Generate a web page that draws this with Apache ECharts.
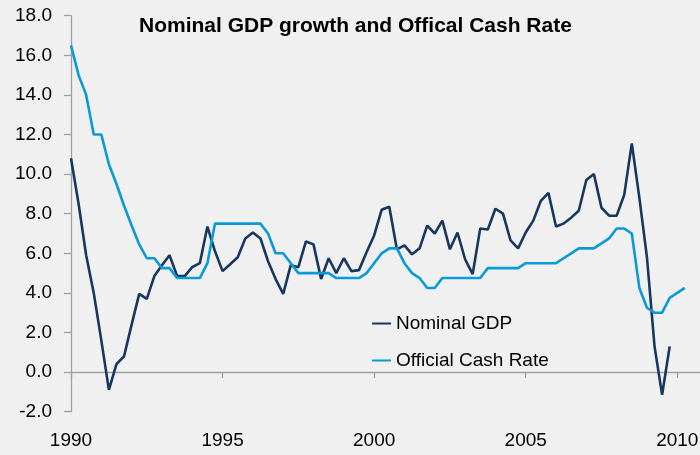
<!DOCTYPE html>
<html>
<head>
<meta charset="utf-8">
<script src="https://cdn.jsdelivr.net/npm/echarts@6/dist/echarts.min.js"></script>
<style>
html,body{margin:0;padding:0;background:#f0f0f0;}
#chart{width:700px;height:455px;}
</style>
</head>
<body>
<div id="chart"></div>
<script>
// Quarterly categories 1990 Q1 .. 2010 Q4
var startYear = 1990;
var endYear = 2010;
var quarters = [];
for (var y = startYear; y <= endYear; y++) {
  for (var q = 1; q <= 4; q++) quarters.push(y + ' Q' + q);
}

var yTicks = { min: -2, max: 18, interval: 2 };

// Nominal GDP growth (% y/y), 1990 Q1 .. 2009 Q4
var nominalGDP = [
  10.8, 8.5, 5.9, 4.0, 1.6, -0.9, 0.4, 0.8,
  2.4, 3.95, 3.7, 4.85, 5.4, 5.9, 4.85, 4.85,
  5.3, 5.5, 7.35, 6.1, 5.1, 5.45, 5.8, 6.75,
  7.05, 6.75, 5.6, 4.7, 3.95, 5.4, 5.3, 6.6,
  6.45, 4.7, 5.75, 5.0, 5.75, 5.1, 5.15, 6.05,
  6.9, 8.2, 8.35, 6.2, 6.4, 5.95, 6.25, 7.4,
  7.0, 7.65, 6.2, 7.05, 5.7, 4.95, 7.25, 7.2,
  8.25, 8.0, 6.65, 6.25, 7.05, 7.65, 8.65, 9.05,
  7.35, 7.5, 7.8, 8.15, 9.7, 10.0, 8.3, 7.9,
  7.9, 8.95, 11.55, 8.8, 5.8, 1.3, -1.15, 1.3
];

// Official Cash Rate (%), 1990 Q1 .. 2010 Q2
var cashRate = [
  16.5, 15.0, 14.0, 12.0, 12.0, 10.5, 9.5, 8.4,
  7.4, 6.45, 5.75, 5.75, 5.25, 5.25, 4.75, 4.75,
  4.75, 4.75, 5.5, 7.5, 7.5, 7.5, 7.5, 7.5,
  7.5, 7.5, 7.0, 6.0, 6.0, 5.5, 5.0, 5.0,
  5.0, 5.0, 5.0, 4.75, 4.75, 4.75, 4.75, 5.0,
  5.5, 6.0, 6.25, 6.25, 5.5, 5.0, 4.75, 4.25,
  4.25, 4.75, 4.75, 4.75, 4.75, 4.75, 4.75, 5.25,
  5.25, 5.25, 5.25, 5.25, 5.5, 5.5, 5.5, 5.5,
  5.5, 5.75, 6.0, 6.25, 6.25, 6.25, 6.5, 6.75,
  7.25, 7.25, 7.0, 4.25, 3.25, 3.0, 3.0, 3.75,
  4.0, 4.25
];

var chart = echarts.init(document.getElementById('chart'));
var font = '"Liberation Sans", Arial, sans-serif';
chart.setOption({
  backgroundColor: '#f0f0f0',
  animation: false,
  title: {
    text: 'Nominal GDP growth and Offical Cash Rate',
    left: 134, top: 11,
    textStyle: { fontFamily: font, fontSize: 21, fontWeight: 'bold', color: '#000' }
  },
  legend: {
    orient: 'vertical',
    left: 367, top: 309,
    itemWidth: 19, itemHeight: 2, itemGap: 18,
    icon: 'rect',
    textStyle: { fontFamily: font, fontSize: 19, color: '#000' },
    data: ['Nominal GDP', 'Official Cash Rate']
  },
  grid: { left: 71, right: 0, top: 15.7, bottom: 43.3, containLabel: false, outerBoundsMode: 'none' },
  xAxis: {
    type: 'category',
    data: quarters,
    boundaryGap: false,
    axisLine: { onZero: true, lineStyle: { color: '#a0a0a0', width: 1.3 } },
    axisTick: { show: true, interval: 19, length: 6, lineStyle: { color: '#a0a0a0', width: 1.3 } },
    axisLabel: {
      interval: 19, margin: 20,
      fontFamily: font, fontSize: 19, color: '#000',
      formatter: function (v) { return v.slice(0, 4); }
    },
    splitLine: { show: false }
  },
  yAxis: {
    type: 'value',
    min: yTicks.min, max: yTicks.max, interval: yTicks.interval,
    axisLine: { show: true, onZero: false, lineStyle: { color: '#a0a0a0', width: 1.3 } },
    axisTick: { show: true, length: 7, lineStyle: { color: '#a0a0a0', width: 1.3 } },
    axisLabel: {
      margin: 19, fontFamily: font, fontSize: 19, color: '#000',
      formatter: function (v) { return v.toFixed(1); }
    },
    splitLine: { show: false }
  },
  series: [
    {
      name: 'Nominal GDP', type: 'line', data: nominalGDP,
      showSymbol: false, symbol: 'none',
      lineStyle: { color: '#17375e', width: 2.6 },
      itemStyle: { color: '#17375e' }
    },
    {
      name: 'Official Cash Rate', type: 'line', data: cashRate,
      showSymbol: false, symbol: 'none',
      lineStyle: { color: '#0a9ad6', width: 2.6 },
      itemStyle: { color: '#0a9ad6' }
    }
  ]
});
</script>
</body>
</html>
